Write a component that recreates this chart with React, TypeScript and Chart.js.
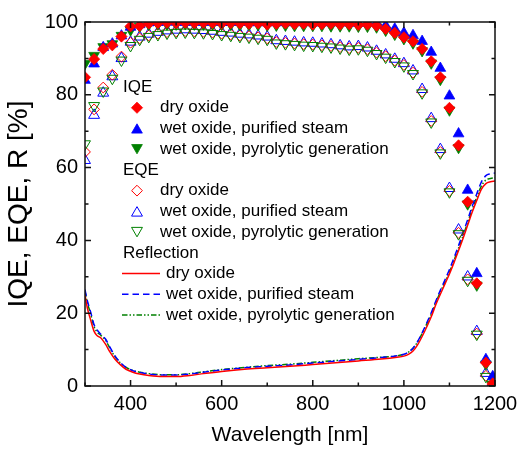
import React, { useEffect, useRef } from "react";
import { Chart, registerables } from "chart.js";

Chart.register(...registerables);

// ---------- data ----------
const markerWl = [
  300, 320, 340, 360, 380, 400, 420, 440, 460, 480,
  500, 520, 540, 560, 580, 600, 620, 640, 660, 680,
  700, 720, 740, 760, 780, 800, 820, 840, 860, 880,
  900, 920, 940, 960, 980, 1000, 1020, 1040, 1060, 1080,
  1100, 1120, 1140, 1160, 1180, 1195,
];

const iqeDry = [
  84.8, 89.8, 92.6, 93.6, 96.0, 98.8, 98.9, 99.6, 99.7, 99.8,
  99.7, 99.8, 99.7, 99.8, 99.7, 99.6, 99.7, 99.6, 99.5, 99.6,
  99.3, 99.5, 99.6, 99.4, 99.5, 99.3, 99.4, 99.5, 99.3, 99.4,
  99.2, 99.3, 99.0, 98.1, 97.0, 95.8, 94.7, 92.6, 89.2, 84.8,
  76.4, 66.1, 50.6, 28.2, 6.4, 0.7,
];
const iqePurified = [
  84.0, 88.5, 93.0, 94.0, 96.2, 98.6, 99.3, 99.8, 99.9, 100,
  100, 99.9, 100, 99.9, 100, 99.9, 99.9, 100, 99.9, 99.8,
  99.9, 99.8, 99.9, 99.8, 99.9, 99.8, 99.8, 99.9, 99.8, 99.8,
  99.7, 99.8, 99.8, 99.0, 98.1, 97.0, 96.3, 94.7, 91.7, 87.3,
  79.7, 69.3, 53.8, 30.9, 7.3, 2.6,
];
const iqePyro = [
  88.6, 90.8, 93.2, 94.0, 96.3, 97.8, 98.8, 99.3, 99.4, 99.4,
  99.4, 99.5, 99.4, 99.4, 99.3, 99.3, 99.3, 99.2, 99.2, 99.2,
  99.1, 99.1, 99.1, 99.0, 99.0, 99.0, 99.0, 98.9, 98.9, 98.9,
  98.8, 98.8, 98.6, 97.7, 96.6, 95.4, 94.2, 92.1, 88.7, 84.2,
  75.8, 65.5, 50.0, 27.7, 6.0, 0.5,
];

const eqeDry = [
  64.3, 76.0, 82.0, 85.5, 90.5, 94.3, 95.5, 96.3, 96.8, 97.2,
  97.4, 97.5, 97.4, 97.3, 97.1, 96.8, 96.6, 96.3, 96.1, 95.8,
  95.5, 94.5, 94.3, 94.1, 93.9, 93.8, 93.6, 93.4, 93.1, 92.8,
  92.9, 92.5, 91.6, 90.6, 89.4, 88.2, 86.1, 80.8, 72.8, 64.3,
  53.6, 42.1, 29.3, 14.4, 2.8, 0.4,
];
const eqePurified = [
  62.0, 74.4, 80.5, 85.0, 90.0, 94.5, 95.9, 96.7, 97.2, 97.6,
  97.8, 97.9, 97.8, 97.7, 97.5, 97.2, 97.0, 96.7, 96.5, 96.2,
  95.9, 94.9, 94.7, 94.5, 94.3, 94.2, 94.0, 93.8, 93.5, 93.2,
  93.3, 92.9, 92.0, 91.0, 89.8, 88.6, 86.6, 81.5, 73.5, 65.0,
  54.3, 42.9, 30.0, 15.0, 3.5, 1.0,
];
const eqePyro = [
  66.5, 77.0, 81.0, 84.5, 89.5, 93.5, 95.2, 96.0, 96.5, 96.9,
  97.1, 97.2, 97.1, 97.0, 96.8, 96.5, 96.3, 96.0, 95.8, 95.5,
  95.2, 94.2, 94.0, 93.8, 93.6, 93.5, 93.3, 93.1, 92.8, 92.5,
  92.6, 92.2, 91.3, 90.3, 89.1, 87.9, 85.8, 80.5, 72.5, 64.0,
  53.3, 41.8, 29.0, 14.2, 2.6, 0.3,
];

const reflWl = [
  300, 305, 312, 320, 327, 335, 345, 355, 365, 378,
  390, 405, 420, 440, 470, 500, 530, 560, 600, 650,
  700, 750, 800, 850, 900, 950, 985, 1000, 1010, 1020,
  1030, 1040, 1050, 1060, 1070, 1080, 1090, 1100, 1110, 1120,
  1130, 1140, 1150, 1160, 1170, 1180, 1190, 1200,
];
const reflDry = [
  25.0, 21.5, 18.3, 15.0, 13.8, 13.2, 11.5, 9.3, 7.5, 5.8,
  4.6, 3.8, 3.3, 2.9, 2.6, 2.6, 2.9, 3.4, 4.0, 4.6,
  5.0, 5.4, 5.9, 6.4, 6.9, 7.4, 7.9, 8.2, 8.7, 9.6,
  11.3, 13.6, 16.2, 19.0, 22.3, 25.2, 28.0, 30.8, 33.9, 37.2,
  40.6, 44.2, 47.8, 51.0, 54.0, 55.6, 56.1, 56.3,
];
const reflPurified = [
  26.5, 23.5, 20.5, 16.8, 15.3, 14.2, 12.9, 10.6, 8.4, 6.4,
  5.1, 4.2, 3.7, 3.3, 3.0, 3.0, 3.3, 3.8, 4.4, 5.0,
  5.4, 5.8, 6.3, 6.8, 7.3, 7.8, 8.3, 8.7, 9.3, 10.4,
  12.2, 14.6, 17.3, 20.1, 23.3, 26.3, 29.1, 32.0, 35.2, 38.6,
  42.1, 45.7, 49.4, 52.8, 56.0, 57.8, 58.3, 58.5,
];
const reflPyro = [
  26.0, 23.0, 20.0, 16.3, 14.8, 13.9, 12.6, 10.3, 8.2, 6.3,
  5.1, 4.3, 3.8, 3.4, 3.1, 3.1, 3.4, 3.9, 4.5, 5.1,
  5.6, 6.0, 6.5, 7.0, 7.5, 7.9, 8.3, 8.7, 9.3, 10.4,
  12.1, 14.4, 17.0, 19.7, 22.9, 25.8, 28.6, 31.4, 34.5, 37.9,
  41.3, 44.9, 48.5, 51.9, 54.9, 56.6, 57.0, 57.2,
];

const xTicks = [400, 600, 800, 1000, 1200];
const xMinorTicks = [300, 500, 700, 900, 1100];
const yTicks = [0, 20, 40, 60, 80, 100];
const yMinorTicks = [10, 30, 50, 70, 90];

const groupHeaders = ["IQE", "EQE", "Reflection"];
const seriesLabels = ["dry oxide", "wet oxide, purified steam", "wet oxide, pyrolytic generation"];
const xTitle = "Wavelength [nm]";
const yTitle = "IQE, EQE, R [%]";

// ---------- styles ----------
const RED = "#ff0000";
const BLUE = "#0000ff";
const GREEN = "#008000";
const AXIS = "#111111";
const FONT = '"Liberation Sans", Arial, sans-serif';
const seriesColors = [RED, BLUE, GREEN];
const shapes = ["diamond", "triangle", "down"];
const dashes = [[], [6.5, 4], [5.5, 2, 1.5, 2, 1.5, 2]];

const markerRadius = (shape: string, filled: boolean) =>
  shape === "diamond" ? (filled ? 5.6 : 5.4) : filled ? 6.2 : 6.3;

const pts = (xs: number[], ys: number[]) => xs.map((x, i) => ({ x, y: ys[i] }));

function markerDs(ys: number[], idx: number, filled: boolean, order: number) {
  const shape = shapes[idx];
  const c = seriesColors[idx];
  const r = markerRadius(shape, filled);
  return {
    data: pts(markerWl, ys),
    showLine: false,
    pointStyle: shape === "diamond" ? "rectRot" : "triangle",
    pointRotation: shape === "down" ? 180 : 0,
    pointRadius: r,
    pointHoverRadius: r,
    pointBackgroundColor: filled ? c : "rgba(0,0,0,0)",
    pointBorderColor: c,
    pointBorderWidth: filled ? 0.8 : 1,
    clip: 0,
    order,
  };
}

function lineDs(ys: number[], idx: number, order: number) {
  return {
    data: pts(reflWl, ys),
    showLine: true,
    borderColor: seriesColors[idx],
    borderWidth: 1.5,
    borderDash: dashes[idx],
    pointRadius: 0,
    pointHoverRadius: 0,
    cubicInterpolationMode: "monotone",
    fill: false,
    clip: 0,
    order,
  };
}

function drawShape(ctx: CanvasRenderingContext2D, shape: string, x: number, y: number, r: number, color: string, filled: boolean) {
  ctx.beginPath();
  if (shape === "diamond") {
    ctx.moveTo(x - r, y);
    ctx.lineTo(x, y - r);
    ctx.lineTo(x + r, y);
    ctx.lineTo(x, y + r);
  } else {
    const s = shape === "down" ? -1 : 1;
    ctx.moveTo(x, y - s * r);
    ctx.lineTo(x + 0.866 * r, y + s * r * 0.5);
    ctx.lineTo(x - 0.866 * r, y + s * r * 0.5);
  }
  ctx.closePath();
  if (filled) {
    ctx.fillStyle = color;
    ctx.fill();
    ctx.lineWidth = 0.8;
  } else {
    ctx.lineWidth = 1;
  }
  ctx.strokeStyle = color;
  ctx.stroke();
}

const frameTicksPlugin = {
  id: "frameTicks",
  afterDatasetsDraw(chart: any) {
    const { ctx, chartArea: a, scales } = chart;
    const xs = scales.x;
    const ys = scales.y;
    ctx.save();
    ctx.strokeStyle = AXIS;
    ctx.lineWidth = 1.5;
    ctx.beginPath();
    const xt = (vals: number[], len: number) => {
      vals.forEach((v) => {
        const p = xs.getPixelForValue(v);
        ctx.moveTo(p, a.bottom);
        ctx.lineTo(p, a.bottom - len);
        ctx.moveTo(p, a.top);
        ctx.lineTo(p, a.top + len);
      });
    };
    const yt = (vals: number[], len: number) => {
      vals.forEach((v) => {
        const p = ys.getPixelForValue(v);
        ctx.moveTo(a.left, p);
        ctx.lineTo(a.left + len, p);
        ctx.moveTo(a.right, p);
        ctx.lineTo(a.right - len, p);
      });
    };
    xt(xTicks, 6);
    xt(xMinorTicks, 3.5);
    yt(yTicks, 6);
    yt(yMinorTicks, 3.5);
    ctx.stroke();
    ctx.strokeRect(a.left, a.top, a.right - a.left, a.bottom - a.top);
    ctx.restore();
  },
};

const legendPlugin = {
  id: "groupLegend",
  afterDraw(chart: any) {
    const ctx: CanvasRenderingContext2D = chart.ctx;
    const y0 = 87;
    const step = 20.73;
    ctx.save();
    ctx.font = `17px ${FONT}`;
    ctx.textBaseline = "middle";
    ctx.textAlign = "left";
    let row = 0;
    groupHeaders.forEach((h, g) => {
      ctx.fillStyle = "#000";
      ctx.fillText(h, 123, y0 + row * step);
      row++;
      seriesLabels.forEach((lab, i) => {
        const y = y0 + row * step;
        if (g < 2) {
          const filled = g === 0;
          const shape = shapes[i];
          const r = markerRadius(shape, filled);
          const yy = shape === "diamond" ? y : shape === "down" ? y - r * 0.25 : y + r * 0.25;
          drawShape(ctx, shape, 137, yy, r, seriesColors[i], filled);
          ctx.fillStyle = "#000";
          ctx.fillText(lab, 160, y);
        } else {
          ctx.save();
          ctx.strokeStyle = seriesColors[i];
          ctx.lineWidth = 1.5;
          ctx.setLineDash(dashes[i]);
          ctx.beginPath();
          ctx.moveTo(122, y);
          ctx.lineTo(160, y);
          ctx.stroke();
          ctx.restore();
          ctx.fillStyle = "#000";
          ctx.fillText(lab, 166, y);
        }
        row++;
      });
    });
    ctx.restore();
  },
};

export default function App() {
  const ref = useRef<HTMLCanvasElement>(null);
  useEffect(() => {
    document.body.style.margin = "0";
    const config: any = {
      type: "scatter",
      data: {
        datasets: [
          markerDs(iqeDry, 0, true, 0),
          markerDs(iqePurified, 1, true, 1),
          markerDs(iqePyro, 2, true, 2),
          markerDs(eqePyro, 2, false, 3),
          markerDs(eqeDry, 0, false, 4),
          markerDs(eqePurified, 1, false, 5),
          lineDs(reflDry, 0, 6),
          lineDs(reflPurified, 1, 7),
          lineDs(reflPyro, 2, 8),
        ],
      },
      options: {
        animation: false,
        responsive: false,
        events: [],
        layout: { padding: { left: 0, right: 30, top: 22, bottom: 0 } },
        plugins: { legend: { display: false }, tooltip: { enabled: false } },
        scales: {
          x: {
            type: "linear",
            min: 300,
            max: 1200,
            grid: { display: false, drawTicks: false },
            border: { display: false },
            afterBuildTicks: (s: any) => {
              s.ticks = xTicks.map((v) => ({ value: v }));
            },
            afterFit: (s: any) => {
              s.height = 64;
            },
            ticks: {
              autoSkip: false,
              maxRotation: 0,
              padding: 6,
              color: "#000",
              font: { size: 20, family: FONT },
              callback: (v: any) => String(v),
            },
            title: {
              display: true,
              text: xTitle,
              color: "#000",
              font: { size: 21, family: FONT },
              padding: { top: 0, bottom: 2 },
            },
          },
          y: {
            type: "linear",
            min: 0,
            max: 100,
            grid: { display: false, drawTicks: false },
            border: { display: false },
            afterBuildTicks: (s: any) => {
              s.ticks = yTicks.map((v) => ({ value: v }));
            },
            afterFit: (s: any) => {
              s.width = 85;
            },
            ticks: {
              autoSkip: false,
              padding: 7,
              color: "#000",
              font: { size: 20, family: FONT },
              callback: (v: any) => String(v),
            },
            title: {
              display: true,
              text: yTitle,
              color: "#000",
              font: { size: 28, family: FONT },
              padding: { top: 2, bottom: 0 },
            },
          },
        },
      },
      plugins: [frameTicksPlugin, legendPlugin],
    };
    const chart = new Chart(ref.current as HTMLCanvasElement, config);
    return () => chart.destroy();
  }, []);
  return (
    <div style={{ width: 525, height: 450 }}>
      <canvas ref={ref} width={525} height={450} style={{ display: "block" }} />
    </div>
  );
}
